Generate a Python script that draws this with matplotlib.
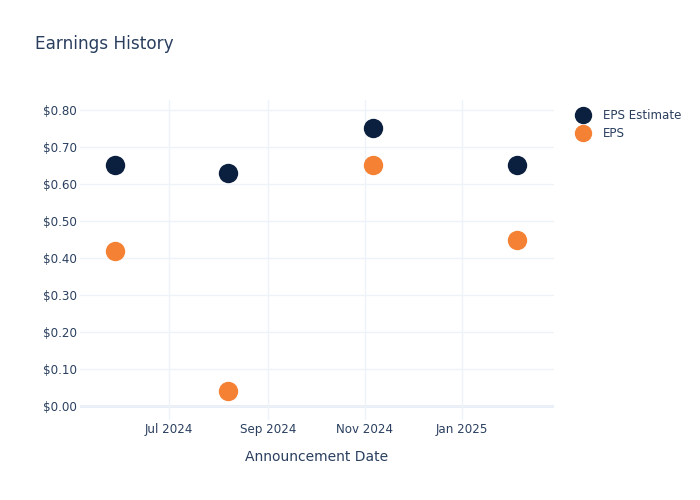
import matplotlib
matplotlib.use("Agg")
import matplotlib.pyplot as plt
import matplotlib.dates as mdates
import numpy as np
from matplotlib.lines import Line2D
from matplotlib.ticker import FuncFormatter, MultipleLocator

# Data
dates = np.array(["2024-05-28", "2024-08-07", "2024-11-06", "2025-02-05"], dtype="datetime64[D]")
eps_estimate = [0.65, 0.63, 0.75, 0.65]
eps_actual = [0.42, 0.04, 0.65, 0.45]

TEXT = "#2a3f5f"
GRID = "#EEF2F9"
NAVY = "#0B1F3F"
ORANGE = "#F58134"

plt.rcParams["font.family"] = ["DejaVu Sans"]

fig = plt.figure(figsize=(7, 5), dpi=100)
ax = fig.add_axes([80 / 700, 1 - 420 / 500, 474 / 700, 320 / 500])

ax.scatter(dates, eps_estimate, s=195, color=NAVY, zorder=3, linewidths=0)
ax.scatter(dates, eps_actual, s=195, color=ORANGE, zorder=3, linewidths=0)

ax.set_xlim(np.datetime64("2024-05-06"), np.datetime64("2025-02-28"))
ax.set_ylim(-0.0378, 0.827)

ax.xaxis.set_major_locator(mdates.MonthLocator(bymonth=[1, 3, 5, 7, 9, 11]))
ax.xaxis.set_major_formatter(mdates.DateFormatter("%b %Y"))
ax.yaxis.set_major_locator(MultipleLocator(0.1))
ax.yaxis.set_major_formatter(FuncFormatter(lambda v, _: f"${v:.2f}"))

ax.grid(True, color=GRID, linewidth=1, zorder=0)
ax.axhline(0, color="#E6ECF5", linewidth=2, zorder=1)
for side in ax.spines.values():
    side.set_visible(False)
ax.tick_params(length=0, colors=TEXT, labelsize=8.6)
ax.tick_params(axis="y", pad=2)
ax.tick_params(axis="x", pad=2)

ax.set_xlabel("Announcement Date", color=TEXT, fontsize=10, labelpad=10)

fig.text(35 / 700, 1 - 44 / 500, "Earnings History", color=TEXT, fontsize=12.2, va="center")

handles = [
    Line2D([], [], marker="o", linestyle="", markersize=11.5, color=NAVY, label="EPS Estimate"),
    Line2D([], [], marker="o", linestyle="", markersize=11.5, color=ORANGE, label="EPS"),
]
leg = fig.legend(handles=handles, loc="upper left", bbox_to_anchor=(574 / 700, 1 - 109 / 500),
                 frameon=False, fontsize=8.6, handletextpad=0.9, labelspacing=0.42,
                 handlelength=1.5, borderaxespad=0, borderpad=0)
for t in leg.get_texts():
    t.set_color(TEXT)

fig.savefig("out.png", dpi=100)
